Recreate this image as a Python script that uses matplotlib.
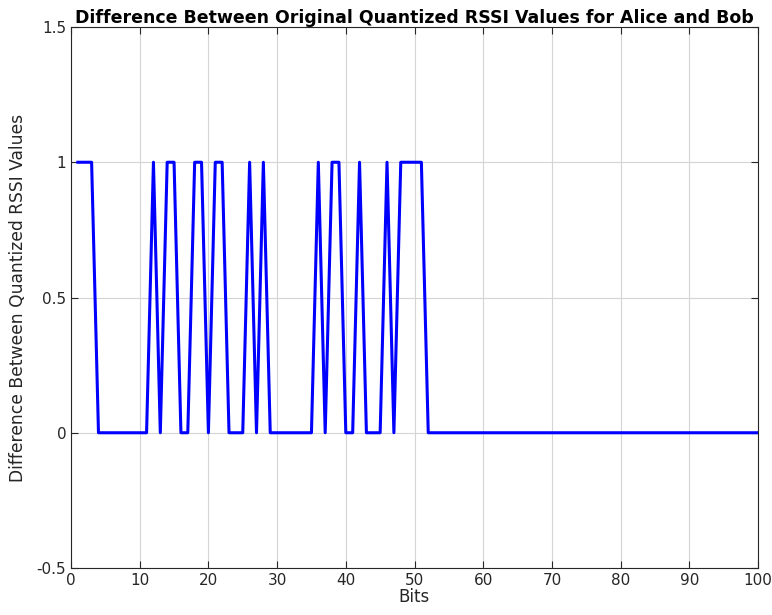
import numpy as np
import matplotlib
matplotlib.use("Agg")
import matplotlib.pyplot as plt

# bit index (MATLAB style, 1..100)
bits = list(range(1, 101))
# difference values
diff_vals = ([1, 1, 1] + [0] * 8 + [1, 0, 1, 1, 0, 0, 1, 1, 0, 1, 1, 0, 0, 0, 1, 0, 1]
             + [0] * 7 + [1, 0, 1, 1, 0, 0, 1, 0, 0, 0, 1, 0, 1, 1, 1, 1] + [0] * 49)

xticks = [0, 10, 20, 30, 40, 50, 60, 70, 80, 90, 100]
yticks = [-0.5, 0, 0.5, 1, 1.5]
yticklabels = ["-0.5", "0", "0.5", "1", "1.5"]

fig = plt.figure(figsize=(7.72, 6.15), dpi=100)
ax = fig.add_axes([71 / 772, 1 - 568 / 615, 687 / 772, 541 / 615])

ax.plot(bits, diff_vals, color="#0000ff", linewidth=2.2)

ax.set_xlim(0, 100)
ax.set_ylim(-0.5, 1.5)
ax.set_xticks(xticks)
ax.set_yticks(yticks)
ax.set_yticklabels(yticklabels)
ax.grid(True, color="#d4d4d4", linewidth=0.8)
ax.set_axisbelow(True)
ax.tick_params(direction="in", top=True, right=True, labelsize=11, colors="#262626",
               length=5, width=0.8)
for s in ax.spines.values():
    s.set_color("#262626")
    s.set_linewidth(0.8)

ax.set_xlabel("Bits", fontsize=12, color="#262626", labelpad=0)
ax.set_ylabel("Difference Between Quantized RSSI Values", fontsize=12.3, color="#262626", labelpad=7)
ax.set_title("Difference Between Original Quantized RSSI Values for Alice and Bob",
             fontsize=12.5, fontweight="bold", pad=3)

fig.savefig("out.png", dpi=100)
